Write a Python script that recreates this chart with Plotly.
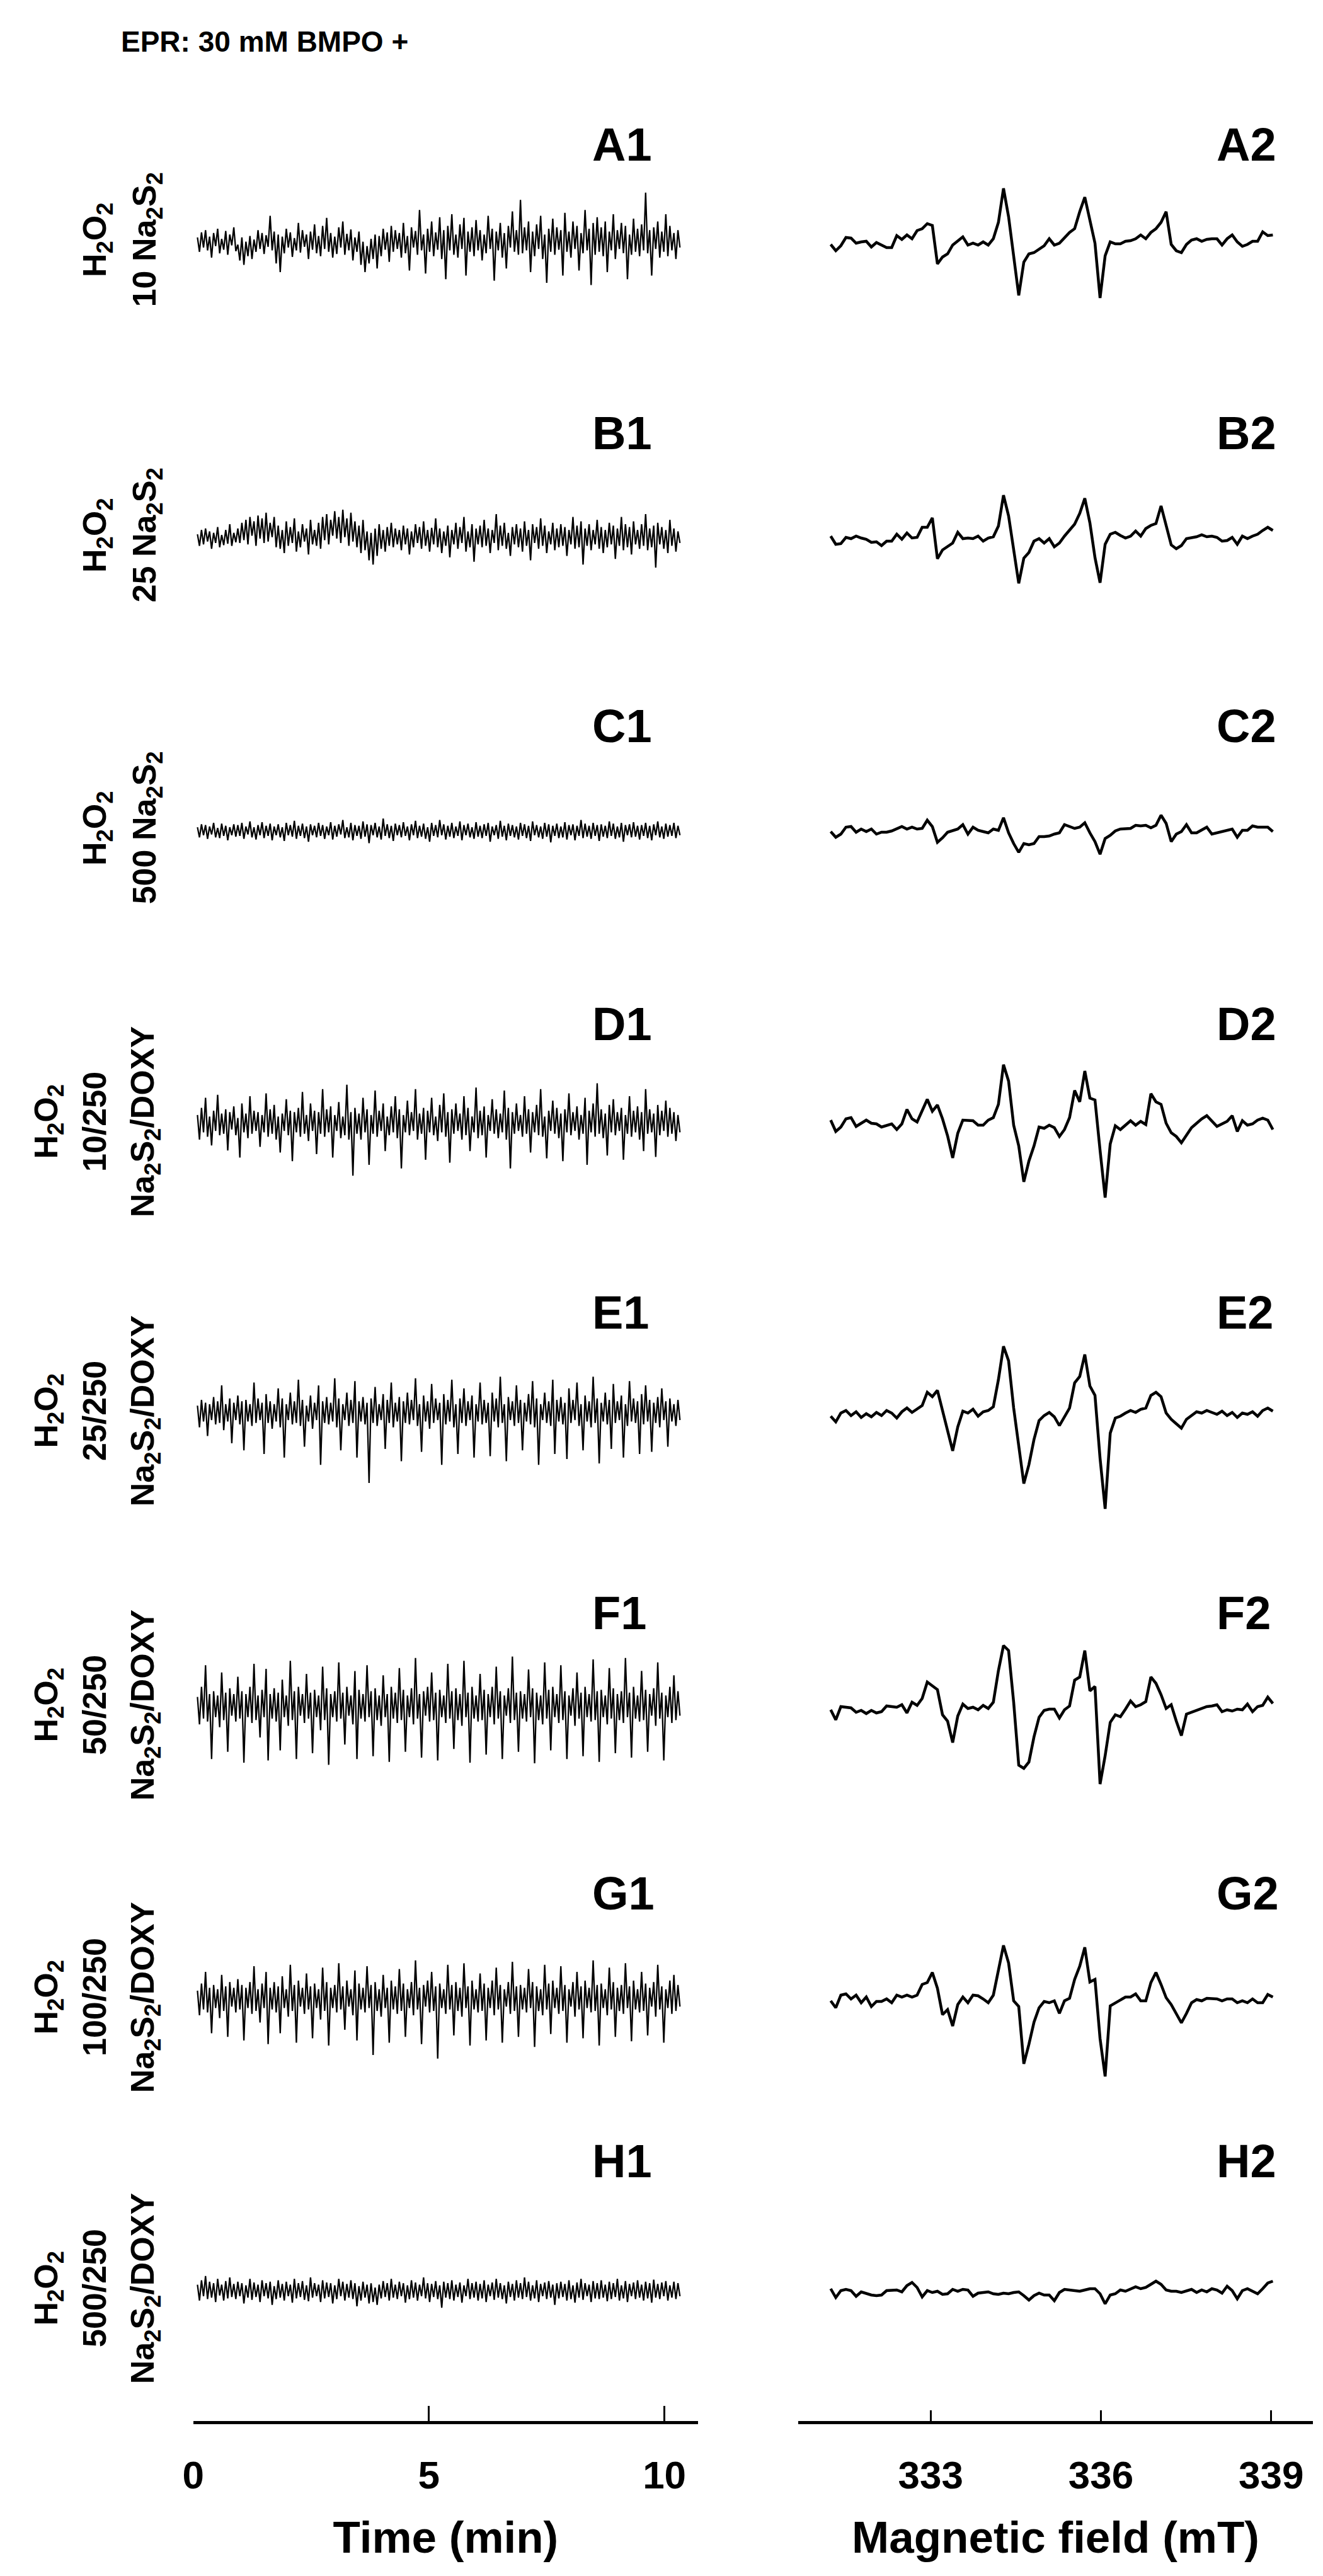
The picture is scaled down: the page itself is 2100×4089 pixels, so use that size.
import numpy as np
import plotly.graph_objects as go

# ---------------- data ----------------
row_letters = ["A", "B", "C", "D", "E", "F", "G", "H"]
left_names = [r + "1" for r in row_letters]
right_names = [r + "2" for r in row_letters]

cond_labels = [
    ["H<sub>2</sub>O<sub>2</sub>", "10 Na<sub>2</sub>S<sub>2</sub>"],
    ["H<sub>2</sub>O<sub>2</sub>", "25 Na<sub>2</sub>S<sub>2</sub>"],
    ["H<sub>2</sub>O<sub>2</sub>", "500 Na<sub>2</sub>S<sub>2</sub>"],
    ["H<sub>2</sub>O<sub>2</sub>", "10/250", "Na<sub>2</sub>S<sub>2</sub>/DOXY"],
    ["H<sub>2</sub>O<sub>2</sub>", "25/250", "Na<sub>2</sub>S<sub>2</sub>/DOXY"],
    ["H<sub>2</sub>O<sub>2</sub>", "50/250", "Na<sub>2</sub>S<sub>2</sub>/DOXY"],
    ["H<sub>2</sub>O<sub>2</sub>", "100/250", "Na<sub>2</sub>S<sub>2</sub>/DOXY"],
    ["H<sub>2</sub>O<sub>2</sub>", "500/250", "Na<sub>2</sub>S<sub>2</sub>/DOXY"],
]

time_ticks = [0, 5, 10]
field_ticks = [333, 336, 339]
time_start, time_end = 0.09, 10.33      # min, recorded span
field_start, field_end = 331.24, 339.03  # mT, recorded span

# time traces (arbitrary units)
A1 = [8,-12,15,-6,18,-10,9,-20,14,-4,20,-14,6,-9,17,-16,12,-3,22,-11,
      -2,-24,8,-30,2,-18,10,-22,5,-12,18,-8,14,-15,11,-5,38,-10,16,-28,
      12,-40,9,-14,20,-6,15,-19,7,-10,28,-13,18,-5,12,-22,16,-9,26,-14,
      10,-18,24,-8,35,-12,14,-20,9,-15,22,-6,30,-16,13,-10,19,-24,8,-12,
      16,-30,2,-40,-4,-28,6,-22,12,-35,10,-18,20,-9,15,-26,24,-12,18,-8,
      14,-20,28,-14,10,-38,22,-6,17,-16,46,-10,12,-42,20,-12,30,-18,15,-9,
      36,-22,18,-50,24,-10,40,-16,12,-20,26,-8,35,-45,16,-12,22,-18,32,-10,
      18,-24,12,-14,38,-8,20,-52,16,-10,28,-20,14,-35,24,-6,44,-12,18,-16,
      60,-14,22,-10,30,-40,16,-18,26,-8,38,-22,12,-55,20,-12,34,-16,22,-9,
      18,-45,42,-12,16,-20,30,-8,24,-38,14,-14,46,-10,20,-58,28,-16,36,-12,
      22,-18,30,-40,16,-10,40,-22,18,-8,28,-14,24,-50,12,-16,34,-12,20,-18,
      26,-10,70,-14,18,-45,22,-8,30,-20,16,-12,40,-18,24,-10,14,-22,18,-6]
B1 = [6,-10,12,-8,14,-4,10,-14,8,-6,16,-12,5,-9,12,-7,20,-10,8,-5,
      14,-6,22,-2,26,-8,30,4,24,-10,32,0,28,-6,36,-4,22,2,30,-12,
      18,-14,12,-20,24,-10,16,-6,28,-18,10,-12,20,-4,14,-22,26,-8,12,-10,
      22,-14,30,-2,34,-8,26,4,38,0,30,-6,40,2,28,-10,36,-4,24,-12,
      18,-20,26,-16,10,-30,8,-36,14,-24,20,-14,12,-18,16,-10,22,-12,14,-8,
      12,-16,18,-8,14,-22,10,-12,20,-6,16,-14,24,-10,12,-18,15,-8,28,-12,
      14,-20,10,-10,18,-26,12,-8,22,-14,16,-6,30,-18,10,-12,20,-32,14,-8,
      18,-12,26,-10,14,-20,12,-6,34,-16,18,-10,22,-14,8,-24,16,-8,20,-12,
      14,-18,24,-10,12,-30,20,-6,16,-14,28,-10,18,-20,10,-8,22,-16,14,-12,
      20,-10,16,-24,12,-8,30,-14,18,-12,24,-36,14,-10,20,-16,12,-8,26,-14,
      16,-20,12,-12,22,-8,18,-28,14,-10,30,-16,20,-12,16,-22,24,-8,12,-14,
      20,-10,34,-16,14,-12,18,-40,22,-8,16,-14,12,-20,26,-10,14,-18,10,-6]
C1 = [6,-8,10,-5,9,-10,7,-4,12,-8,5,-9,11,-6,8,-12,6,-5,10,-7,
      9,-6,12,-10,7,-4,14,-8,6,-11,9,-5,13,-9,8,-6,11,-12,7,-5,
      10,-8,6,-13,12,-5,9,-7,15,-10,8,-6,11,-9,7,-14,10,-5,8,-8,
      12,-6,9,-10,7,-5,13,-11,8,-7,10,-4,16,-9,6,-8,12,-12,9,-6,
      8,-10,14,-7,10,-16,9,-5,12,-8,7,-11,18,-6,10,-9,8,-13,11,-5,
      9,-8,13,-6,7,-12,10,-5,15,-9,8,-7,11,-10,6,-14,12,-6,9,-8,
      16,-5,10,-11,8,-7,12,-9,7,-6,14,-12,9,-5,11,-8,6,-10,13,-7,
      8,-9,10,-6,12,-14,7,-5,9,-10,15,-7,8,-12,11,-6,9,-8,7,-11,
      12,-6,10,-9,8,-13,14,-5,9,-8,7,-10,12,-7,10,-15,8,-6,11,-9,
      7,-8,13,-11,9,-5,10,-12,8,-6,16,-9,11,-7,8,-10,12,-6,9,-13,
      10,-7,8,-9,14,-6,11,-10,7,-8,12,-14,9,-5,10,-8,13,-7,8,-11,
      9,-6,12,-9,8,-12,10,-5,14,-8,7,-10,11,-7,9,-6,12,-9,8,-5]
D1 = [14,-20,24,-10,38,-16,12,-28,20,-8,42,-14,16,-12,22,-35,18,-6,26,-14,
      10,-45,30,-10,16,-18,40,-12,20,-8,18,-30,14,-10,44,-16,22,-12,28,-20,
      12,-38,16,-8,36,-14,20,-50,18,-10,24,-16,46,-12,14,-22,30,-8,20,-40,
      18,-12,50,-16,22,-10,26,-45,14,-8,32,-18,12,-14,56,-20,18,-70,24,-12,
      16,-20,38,-10,22,-55,14,-12,48,-16,20,-8,30,-36,12,-14,26,-10,40,-18,
      22,-60,14,-10,34,-14,18,-8,50,-20,16,-12,24,-48,20,-10,38,-14,12,-22,
      28,-10,44,-16,18,-52,22,-12,30,-8,16,-20,40,-14,24,-36,12,-10,52,-18,
      20,-14,26,-45,14,-8,36,-12,22,-18,16,-10,48,-20,24,-60,18,-12,30,-8,
      14,-16,40,-12,22,-38,18,-10,28,-14,50,-16,12,-46,20,-8,34,-12,24,-18,
      16,-50,22,-10,44,-14,18,-8,26,-20,14,-12,38,-55,20,-10,30,-16,58,-12,
      22,-18,16,-42,28,-10,36,-14,18,-8,24,-48,14,-12,40,-16,20,-10,26,-20,
      18,-36,50,-12,22,-10,16,-44,28,-14,20,-8,34,-16,24,-12,18,-22,14,-10]
E1 = [12,-18,20,-10,16,-30,14,-8,24,-14,18,-12,40,-22,14,-10,22,-40,16,-8,
      26,-14,18,-50,20,-10,14,-16,44,-12,22,-8,16,-55,28,-12,18,-20,14,-10,
      36,-18,22,-60,14,-8,30,-14,18,-12,48,-16,20,-45,12,-10,26,-20,16,-8,
      40,-70,18,-12,24,-14,16,-10,50,-18,22,-50,14,-8,30,-16,20,-12,46,-60,
      18,-10,24,-14,16,-95,22,-12,38,-16,14,-8,28,-48,20,-12,44,-18,16,-10,
      24,-65,18,-12,30,-14,20,-8,50,-16,14,-52,26,-10,18,-20,42,-12,22,-8,
      16,-70,28,-14,20,-10,48,-18,14,-55,22,-12,36,-16,18,-8,26,-60,14,-10,
      44,-14,20,-12,16,-58,30,-10,22,-18,52,-12,14,-65,24,-8,18,-16,40,-12,
      20,-50,16,-10,28,-14,46,-18,22,-70,14,-8,30,-12,18,-16,48,-55,20,-10,
      24,-14,16,-62,36,-12,20,-8,44,-16,14,-50,26,-10,18,-18,52,-12,22,-68,
      16,-10,30,-14,20,-48,42,-12,18,-8,26,-60,14,-16,46,-10,22,-12,18,-55,
      28,-14,40,-10,20,-52,16,-12,24,-18,36,-8,18,-45,22,-10,14,-16,20,-8]
F1 = [16,-22,30,-14,60,-18,20,-70,24,-12,18,-26,50,-16,22,-60,28,-10,20,-18,
      44,-14,24,-75,20,-12,30,-20,62,-16,18,-40,26,-12,55,-72,20,-14,28,-18,
      22,-58,40,-12,18,-24,66,-16,24,-70,30,-10,20,-20,48,-14,22,-62,26,-12,
      18,-30,58,-16,28,-78,20,-12,24,-18,64,-14,22,-50,30,-10,18,-22,52,-70,
      26,-14,20,-18,60,-12,24,-66,28,-16,18,-24,46,-12,20,-74,30,-14,22,-20,
      56,-16,26,-60,18,-12,28,-22,70,-14,20,-68,24,-10,30,-18,50,-16,22,-72,
      26,-12,18,-20,62,-14,24,-56,28,-16,20,-24,66,-12,22,-75,30,-14,18,-18,
      48,-16,26,-64,20,-12,30,-22,58,-14,24,-70,18,-10,28,-20,72,-16,22,-60,
      24,-14,20,-18,54,-12,28,-76,22,-16,18,-22,64,-14,26,-58,30,-12,20,-20,
      60,-16,24,-70,18,-10,28,-24,50,-14,22,-66,30,-12,20,-18,68,-16,24,-74,
      26,-12,18,-22,56,-14,28,-62,20,-16,24,-20,70,-12,22,-68,30,-14,18,-18,
      52,-16,26,-60,20,-10,28,-24,64,-14,22,-72,18,-12,30,-20,46,-16,24,-10]
G1 = [14,-20,24,-12,40,-16,18,-45,22,-10,16,-24,36,-14,20,-50,26,-8,18,-16,
      30,-12,22,-55,18,-10,26,-18,48,-14,16,-30,24,-10,40,-60,18,-12,26,-16,
      20,-45,34,-10,16,-22,50,-14,22,-58,28,-8,18,-18,38,-12,20,-52,24,-10,
      16,-26,46,-14,26,-62,18,-10,22,-16,52,-12,20,-40,28,-8,16,-20,42,-55,
      24,-12,18,-16,48,-10,22,-75,26,-14,16,-22,36,-10,18,-58,28,-12,20,-18,
      44,-14,24,-50,16,-10,26,-20,56,-12,18,-60,22,-8,28,-16,40,-14,20,-80,
      24,-10,16,-18,50,-12,22,-48,26,-14,18,-22,52,-10,20,-62,28,-12,16,-16,
      38,-14,24,-55,18,-10,28,-20,46,-12,22,-58,16,-8,26,-18,54,-14,20,-50,
      22,-12,18,-16,44,-10,26,-64,20,-14,16,-20,50,-12,24,-46,28,-10,18,-18,
      48,-14,22,-58,16,-8,26,-22,40,-12,20,-52,28,-10,18,-16,56,-14,22,-62,
      24,-10,16,-20,46,-12,26,-50,18,-14,22,-18,52,-10,20,-56,28,-12,16,-16,
      40,-14,24,-48,18,-8,26,-22,50,-12,20,-58,16,-10,28,-18,36,-14,22,-8]
H1 = [10,-12,16,-6,22,-10,14,-8,12,-14,18,-5,10,-12,15,-9,20,-7,11,-10,
      14,-6,12,-16,9,-8,18,-11,13,-7,10,-14,16,-6,12,-9,14,-18,8,-10,
      16,-8,11,-12,14,-6,10,-15,18,-9,12,-7,15,-11,9,-13,20,-8,12,-6,
      10,-14,16,-9,13,-7,12,-16,9,-10,18,-6,14,-12,11,-8,16,-10,12,-20,
      8,-12,14,-8,10,-16,12,-14,6,-18,10,-9,15,-7,12,-12,18,-8,10,-10,
      14,-6,12,-15,9,-10,16,-8,13,-12,10,-6,20,-9,12,-14,11,-7,15,-10,
      9,-22,14,-8,12,-10,16,-12,10,-7,13,-15,9,-6,18,-10,12,-8,14,-12,
      11,-9,16,-14,10,-6,13,-11,18,-8,12,-10,9,-16,14,-7,11,-12,16,-8,
      12,-10,20,-7,14,-12,9,-9,16,-14,11,-6,13,-10,15,-8,10,-18,12,-9,
      14,-7,11,-12,16,-10,9,-15,13,-8,18,-11,12,-6,10,-14,15,-9,12,-10,
      16,-8,10,-13,14,-10,12,-7,18,-12,9,-9,15,-14,11,-6,13,-10,16,-8,
      10,-12,14,-9,12,-15,17,-8,11,-10,13,-6,15,-12,9,-8,14,-10,12,-6]

# EPR spectra (arbitrary units)
A2 = [-2,-12,-4,9,8,0,2,3,-6,1,
      -3,-7,-7,12,6,13,7,20,23,31,
      28,-33,-22,-17,-3,3,10,-3,0,-3,
      2,-3,7,33,87,42,-17,-83,-30,-17,
      -15,-10,-4,7,-3,0,8,17,23,50,
      73,37,0,-87,-20,2,-1,-1,3,4,
      7,13,7,17,23,33,50,-2,-12,-15,
      -2,5,7,3,6,7,7,-3,7,13,
      2,-5,-2,3,3,18,12,13]
B2 = [4,-9,-8,2,0,4,1,-1,-6,-5,
      -11,-4,-4,7,-1,9,1,2,18,18,
      33,-32,-18,-13,-7,10,0,1,0,4,
      -4,1,3,20,69,36,-18,-71,-31,-22,
      -4,0,-7,0,-13,-7,4,13,23,40,
      64,25,-30,-70,-9,7,10,5,1,4,
      12,4,16,21,24,52,22,-10,-16,-11,
      0,1,3,6,3,4,2,-4,-3,2,
      -9,4,0,4,7,13,18,13]
C2 = [0,-9,-4,7,8,-1,4,0,4,-4,
      -1,-1,1,4,8,4,7,4,5,18,
      8,-17,-10,-1,1,4,11,-4,7,2,
      0,-2,4,2,22,-2,-19,-33,-19,-21,
      -19,-8,-8,-7,-4,-2,11,8,5,7,
      14,-2,-16,-36,-11,-6,1,4,5,5,
      10,9,10,6,10,26,13,-16,-4,0,
      11,-2,-2,2,7,-4,-2,0,2,4,
      -9,2,2,9,7,7,7,0]
D2 = [8,-10,-3,10,12,-2,3,8,3,2,
      -3,0,2,-7,2,25,10,5,22,41,
      22,32,10,-17,-52,-13,8,7,7,0,
      0,8,12,33,96,70,0,-33,-90,-57,
      -33,-3,-5,0,-4,-18,-7,12,55,37,
      86,43,40,-40,-115,-30,-1,-7,0,7,
      0,6,1,50,37,33,3,-12,-18,-28,
      -16,-4,3,10,15,6,-2,2,6,15,
      -10,7,0,2,8,11,8,-7]
E2 = [-3,-12,2,6,-2,4,-5,1,-4,3,
      -2,6,2,-6,4,10,3,8,14,35,
      28,38,5,-25,-58,-20,5,2,8,-3,
      4,6,12,55,108,85,10,-50,-110,-80,
      -40,-10,-2,3,-4,-18,-3,10,50,60,
      95,45,30,-70,-150,-30,-6,-3,2,6,
      3,8,10,30,35,28,2,-8,-15,-22,
      -8,-2,4,2,6,3,0,5,-2,3,
      -5,2,0,4,-3,6,10,5]
F2 = [-2,-18,3,2,1,-6,-3,-8,-3,-7,
      -5,4,3,2,6,-7,10,5,16,42,
      36,30,-10,-20,-54,-12,7,0,2,-2,
      5,0,10,60,100,92,10,-90,-95,-85,
      -45,-14,-3,-1,-1,-15,-2,4,45,50,
      92,28,35,-120,-75,-22,-10,-13,-1,12,
      3,6,11,50,40,22,0,6,-20,-43,
      -9,-6,-2,0,3,4,6,-5,-2,-4,
      -1,-2,7,-5,3,5,18,8]
G2 = [0,-11,9,11,3,9,-3,6,-9,-1,
      -1,3,-3,9,6,9,6,9,26,29,
      45,20,-22,-14,-40,-6,6,-3,9,8,
      3,-3,9,46,88,60,0,-9,-100,-69,
      -34,-11,-1,-3,0,-20,0,4,34,55,
      85,30,34,-60,-120,-8,-3,1,6,6,
      11,0,0,29,45,26,5,-6,-20,-35,
      -20,-3,2,0,4,3,3,0,3,3,
      -3,0,-3,3,-3,-3,10,6]
H2 = [5,-9,2,4,2,-7,0,-3,-5,-6,
      -5,2,2,3,0,10,15,7,-8,2,
      -1,1,-4,-3,4,1,4,3,-7,-2,
      -1,0,-3,-4,-2,-3,-1,0,-6,-13,
      -6,-2,-5,-5,-14,-1,4,3,2,1,
      3,5,5,-3,-19,-5,-3,3,1,4,
      8,5,7,12,17,12,3,1,1,-1,
      1,4,-1,3,0,5,3,-2,9,2,
      -11,2,5,1,-3,5,14,17]

left_series = [A1, B1, C1, D1, E1, F1, G1, H1]
right_series = [A2, B2, C2, D2, E2, F2, G2, H2]

# ---------------- layout (pixels of the 2100 x 4089 page) ----------------
W, H = 2100, 4089
FONT = "Liberation Sans"
row_center = [378, 847, 1312, 1778, 2237, 2704, 3168, 3630]
row_label_y = [222, 680, 1145, 1617, 2075, 2552, 2997, 3422]
band_px = 220          # half height of each row band (px)
left_half_range = 192  # data units over half band (left column)
right_half_range = 220
axis_y = 3837


def px(xp):
    return xp / W


def py(yp):
    return 1 - yp / H


fig = go.Figure()
for i in range(8):
    yl = "y" if i == 0 else f"y{i + 1}"
    yr = f"y{i + 9}"
    tl = np.linspace(time_start, time_end, len(left_series[i]))
    fr = np.linspace(field_start, field_end, len(right_series[i]))
    fig.add_trace(go.Scatter(x=tl, y=left_series[i], xaxis="x", yaxis=yl,
                             mode="lines", line=dict(color="black", width=2.3),
                             hoverinfo="skip"))
    fig.add_trace(go.Scatter(x=fr, y=right_series[i], xaxis="x2", yaxis=yr,
                             mode="lines", line=dict(color="black", width=4.5),
                             hoverinfo="skip"))

layout = dict(
    width=W, height=H, autosize=False,
    margin=dict(l=0, r=0, t=0, b=0, pad=0),
    paper_bgcolor="white", plot_bgcolor="white",
    showlegend=False,
    font=dict(family=FONT, color="black"),
)

tick_font = dict(family=FONT, size=62, color="black", weight="bold")
title_font = dict(family=FONT, size=71, color="black", weight="bold")

layout["xaxis"] = dict(
    domain=[px(284), px(1092)], range=[0, 10.716],
    anchor="free", position=py(axis_y),
    showgrid=False, zeroline=False,
    showline=True, linecolor="black", linewidth=4.5,
    ticks="inside", ticklen=24, tickwidth=3, tickcolor="black",
    tickvals=time_ticks, ticktext=[str(v) for v in time_ticks],
    tickfont=tick_font, ticklabelstandoff=28,
    title=dict(text="Time (min)", font=title_font, standoff=40),
)
layout["xaxis2"] = dict(
    domain=[px(1252), px(2076)], range=[330.666, 339.738],
    anchor="free", position=py(axis_y),
    showgrid=False, zeroline=False,
    showline=True, linecolor="black", linewidth=4.5,
    ticks="inside", ticklen=17, tickwidth=3, tickcolor="black",
    tickvals=field_ticks, ticktext=[str(v) for v in field_ticks],
    tickfont=tick_font, ticklabelstandoff=28,
    title=dict(text="Magnetic field (mT)", font=title_font, standoff=40),
)
for i in range(8):
    c = row_center[i]
    dom = [py(c + band_px), py(c - band_px)]
    lkey = "yaxis" if i == 0 else f"yaxis{i + 1}"
    rkey = f"yaxis{i + 9}"
    layout[lkey] = dict(domain=dom, range=[-left_half_range, left_half_range],
                        visible=False, anchor="free", position=0,
                        showgrid=False, zeroline=False, fixedrange=True)
    layout[rkey] = dict(domain=dom, range=[-right_half_range, right_half_range],
                        visible=False, anchor="free", position=0,
                        showgrid=False, zeroline=False, fixedrange=True)

annotations = []
annotations.append(dict(
    text="EPR: 30 mM BMPO +", x=px(166), y=py(58), xref="paper", yref="paper",
    xanchor="left", yanchor="middle", showarrow=False,
    font=dict(family=FONT, size=46, color="black", weight="bold")))

for i in range(8):
    for name, xl in ((left_names[i], 920), (right_names[i], 1920)):
        annotations.append(dict(
            text=name, x=px(xl), y=py(row_label_y[i]), xref="paper", yref="paper",
            xanchor="left", yanchor="middle", showarrow=False,
            font=dict(family=FONT, size=74, color="black", weight="bold")))
    lines = cond_labels[i]
    xs = [130, 210] if len(lines) == 2 else [52, 126, 207]
    for txt, xl in zip(lines, xs):
        annotations.append(dict(
            text=txt, x=px(xl), y=py(row_center[i] - 6), xref="paper", yref="paper",
            xanchor="center", yanchor="middle", showarrow=False, textangle=-90,
            font=dict(family=FONT, size=52, color="black", weight="bold")))

layout["annotations"] = annotations
fig.update_layout(**layout)
fig.write_html("out.html")
